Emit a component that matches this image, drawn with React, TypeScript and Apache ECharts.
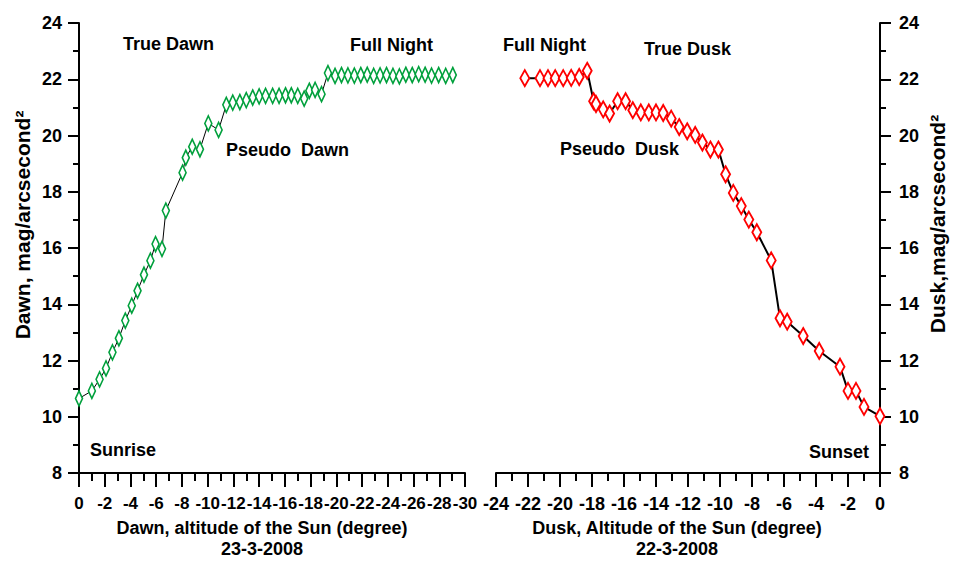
import React, { useEffect, useRef } from "react";
import * as echarts from "echarts";

// Dawn (23-3-2008): altitude of the Sun (deg) and sky brightness (mag/arcsec^2)
const dawnAltitude = [
  0, -1, -1.6, -2.1, -2.6, -3.1, -3.6, -4.1, -4.55, -5.05, -5.55, -5.95, -6.45, -6.75,
  -8.05, -8.3, -8.8, -9.4, -10.05, -10.85, -11.45, -11.95, -12.5, -13.0, -13.5, -14.0,
  -14.5, -15.05, -15.55, -16.05, -16.5, -17.0, -17.5, -17.9, -18.35, -18.85,
  -19.35, -19.9, -20.4, -20.9, -21.4, -21.9, -22.4, -22.9, -23.4, -23.9, -24.4, -24.9,
  -25.4, -25.9, -26.4, -26.9, -27.4, -27.95, -28.5, -29.05,
];
const dawnBrightness = [
  10.65, 10.92, 11.33, 11.72, 12.29, 12.79, 13.42, 13.95, 14.48, 15.05, 15.55, 16.14, 15.97, 17.33,
  18.68, 19.21, 19.6, 19.51, 20.43, 20.2, 21.09, 21.17, 21.19, 21.26, 21.35, 21.39,
  21.41, 21.41, 21.41, 21.43, 21.43, 21.41, 21.31, 21.59, 21.62, 21.47,
  22.22, 22.12, 22.15, 22.14, 22.13, 22.15, 22.16, 22.12, 22.14, 22.15, 22.12, 22.1,
  22.16, 22.15, 22.18, 22.16, 22.13, 22.15, 22.12, 22.15,
];

// Dusk (22-3-2008)
const duskAltitude = [
  -22.2, -21.25, -20.75, -20.3, -19.8, -19.3, -18.8, -18.3, -17.9, -17.75, -17.3, -16.9,
  -16.4, -15.9, -15.45, -14.95, -14.45, -14.0, -13.55, -13.05, -12.55, -12.05, -11.55,
  -11.1, -10.6, -10.1, -9.65, -9.17, -8.67, -8.2, -7.7, -6.8, -6.25, -5.8, -4.8, -3.8,
  -2.5, -2.0, -1.5, -1.0, 0,
];
const duskBrightness = [
  22.04, 22.04, 22.04, 22.04, 22.04, 22.05, 22.08, 22.3, 21.22, 21.12, 20.93, 20.78,
  21.22, 21.22, 20.9, 20.82, 20.82, 20.82, 20.8, 20.6, 20.3, 20.15, 20.02,
  19.75, 19.5, 19.5, 18.62, 17.96, 17.49, 17.01, 16.56, 15.56, 13.5, 13.38, 12.87, 12.34,
  11.78, 10.92, 10.92, 10.35, 10.02,
];

const GREEN = "#00a03c";
const RED = "#ff0000";

export default function App() {
  const ref = useRef<HTMLDivElement>(null);

  useEffect(() => {
    if (!ref.current) return;
    document.body.style.margin = "0";
    const FAMILY = "'Liberation Sans', Arial, sans-serif";
    const chart = echarts.init(ref.current, null, { renderer: "svg" });

    const txt = {
      color: "#000",
      fontFamily: FAMILY,
      fontWeight: "bold" as const,
      fontSize: 18,
    };
    const axisLine = { show: true, onZero: false, lineStyle: { color: "#000", width: 2 } };
    const axisTickX = { show: true, length: 14, lineStyle: { color: "#000", width: 2 } };
    const minorTickX = { show: true, splitNumber: 2, length: 8, lineStyle: { color: "#000", width: 2 } };
    const axisTickY = { show: true, length: 11, lineStyle: { color: "#000", width: 2 } };
    const minorTickY = { show: true, splitNumber: 2, length: 6, lineStyle: { color: "#000", width: 2 } };

    const annot = (text: string, x: number, y: number) => ({
      type: "text",
      x,
      y,
      silent: true,
      style: {
        text,
        fill: "#000",
        fontFamily: FAMILY,
        fontWeight: "bold",
        fontSize: 18,
        align: "left",
        verticalAlign: "middle",
      },
    });
    const yName = (text: string, x: number, y: number) => ({
      type: "text",
      x,
      y,
      rotation: Math.PI / 2,
      silent: true,
      style: {
        text,
        fill: "#000",
        fontFamily: FAMILY,
        fontWeight: "bold",
        fontSize: 21,
        align: "center",
        verticalAlign: "middle",
      },
    });

    const option: any = {
      animation: false,
      backgroundColor: "#fff",
      grid: [
        { left: 79, top: 23, width: 386, height: 450, outerBoundsMode: "none", containLabel: false },
        { left: 496, top: 23, width: 384, height: 450, outerBoundsMode: "none", containLabel: false },
      ],
      xAxis: [
        {
          gridIndex: 0,
          type: "value",
          min: -30,
          max: 0,
          interval: 2,
          inverse: true,
          axisLine,
          axisTick: axisTickX,
          minorTick: minorTickX,
          splitLine: { show: false },
          axisLabel: { ...txt, fontSize: 17, margin: 22, hideOverlap: false, showMinLabel: true, showMaxLabel: true },
          name: "Dawn, altitude of the Sun (degree)\n23-3-2008",
          nameLocation: "middle",
          nameGap: 44,
          nameTextStyle: { ...txt, lineHeight: 21, padding: [0, 20, 0, 0] },
        },
        {
          gridIndex: 1,
          type: "value",
          min: -24,
          max: 0,
          interval: 2,
          axisLine,
          axisTick: axisTickX,
          minorTick: minorTickX,
          splitLine: { show: false },
          axisLabel: { ...txt, margin: 22, hideOverlap: false, showMinLabel: true, showMaxLabel: true },
          name: "Dusk, Altitude of the Sun (degree)\n22-3-2008",
          nameLocation: "middle",
          nameGap: 44,
          nameTextStyle: { ...txt, lineHeight: 21, padding: [0, 22, 0, 0] },
        },
      ],
      yAxis: [
        {
          gridIndex: 0,
          type: "value",
          min: 8,
          max: 24,
          interval: 2,
          position: "left",
          axisLine,
          axisTick: axisTickY,
          minorTick: minorTickY,
          splitLine: { show: false },
          axisLabel: { ...txt, margin: 17 },
        },
        {
          gridIndex: 1,
          type: "value",
          min: 8,
          max: 24,
          interval: 2,
          position: "right",
          axisLine,
          axisTick: axisTickY,
          minorTick: minorTickY,
          splitLine: { show: false },
          axisLabel: { ...txt, margin: 19 },
        },
      ],
      series: [
        {
          type: "line",
          xAxisIndex: 0,
          yAxisIndex: 0,
          data: dawnAltitude.map((a, i) => [a, dawnBrightness[i]]),
          symbol: "diamond",
          symbolSize: [7, 15],
          showSymbol: true,
          clip: false,
          itemStyle: { color: "#fff", borderColor: GREEN, borderWidth: 1.8 },
          lineStyle: { color: "#000", width: 1 },
          emphasis: { disabled: true },
          z: 3,
        },
        {
          type: "line",
          xAxisIndex: 1,
          yAxisIndex: 1,
          data: duskAltitude.map((a, i) => [a, duskBrightness[i]]),
          symbol: "diamond",
          symbolSize: [9, 16],
          showSymbol: true,
          clip: false,
          itemStyle: { color: "#fff", borderColor: RED, borderWidth: 2 },
          lineStyle: { color: "#000", width: 2 },
          emphasis: { disabled: true },
          z: 3,
        },
      ],
      graphic: [
        annot("True Dawn", 123, 44),
        annot("Full Night", 350, 45),
        annot("Pseudo  Dawn", 226, 150),
        annot("Sunrise", 90, 450),
        annot("Full Night", 503, 45),
        annot("True Dusk", 644, 49),
        annot("Pseudo  Dusk", 560, 149),
        annot("Sunset", 809, 452),
        yName("Dawn, mag/arcsecond²", 22, 225),
        yName("Dusk,mag/arcsecond²", 937, 224),
      ],
    };

    chart.setOption(option);
    return () => chart.dispose();
  }, []);

  return (
    <div
      ref={ref}
      style={{ position: "absolute", left: 0, top: 0, width: 954, height: 562, background: "#fff" }}
    />
  );
}
